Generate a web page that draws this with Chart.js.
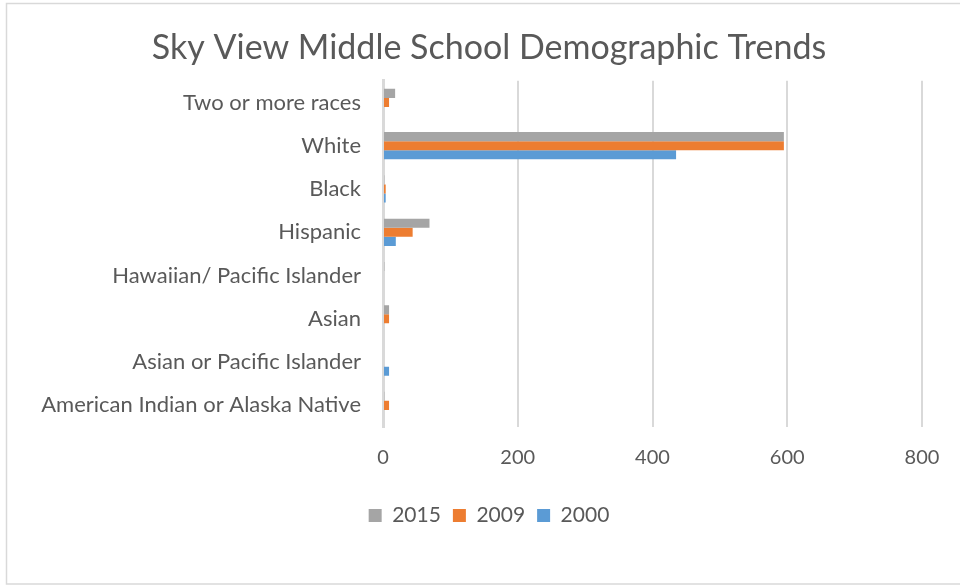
<!DOCTYPE html>
<html>
<head>
<meta charset="utf-8">
<script src="https://cdn.jsdelivr.net/npm/chart.js@4"></script>
<style>
  html, body { margin: 0; padding: 0; background: #fff; }
  #wrap { width: 960px; height: 585px; }
</style>
</head>
<body>
<div id="wrap"><canvas id="barChart" width="960" height="585"></canvas></div>
<script>
// Enrollment by group for each survey year
var groups = [
    'Two or more races',
    'White',
    'Black',
    'Hispanic',
    'Hawaiian/ Pacific Islander',
    'Asian',
    'Asian or Pacific Islander',
    'American Indian or Alaska Native'
];
var years = ['2015', '2009', '2000'];
var counts2015 = [18, 595, 2, 69, 2, 9, 0, 2];
var counts2009 = [9, 595, 4, 44, 0, 9, 0, 9];
var counts2000 = [0, 435, 4, 19, 0, 0, 9, 0];
var xTicks = [0, 200, 400, 600, 800];

var colors = ['#a5a5a5', '#ed7d31', '#5b9bd5'];
var textColor = '#595959';
var fontFamily = 'Lato, "Open Sans", sans-serif';

// white background plus thin frame around the chart;
// the category axis is stretched to the left edge so long labels aren't clipped
var framePlugin = {
    id: 'frame',
    afterLayout: function (chart) {
        chart.scales.y.left = 0;
    },
    beforeDraw: function (chart) {
        var ctx = chart.ctx;
        ctx.save();
        ctx.fillStyle = '#ffffff';
        ctx.fillRect(0, 0, chart.width, chart.height);
        ctx.strokeStyle = '#d9d9d9';
        ctx.lineWidth = 1.5;
        ctx.strokeRect(6.5, 3.5, chart.width, chart.height - 4.5);
        ctx.restore();
    }
};

var canvas = document.getElementById('barChart');
new Chart(canvas, {
    type: 'bar',
    data: {
        labels: groups,
        datasets: [
            { label: years[0], data: counts2015, backgroundColor: colors[0] },
            { label: years[1], data: counts2009, backgroundColor: colors[1] },
            { label: years[2], data: counts2000, backgroundColor: colors[2] }
        ]
    },
    options: {
        indexAxis: 'y',
        responsive: false,
        animation: false,
        categoryPercentage: 0.63,
        barPercentage: 1.0,
        layout: { padding: { left: 56, right: 38, top: 0, bottom: 49 } },
        plugins: {
            title: {
                display: true,
                text: 'Sky View Middle School Demographic Trends',
                color: textColor,
                font: { family: fontFamily, size: 34, weight: 'normal' },
                padding: { top: 28, bottom: 12 }
            },
            legend: {
                position: 'bottom',
                labels: {
                    color: textColor,
                    font: { family: fontFamily, size: 21 },
                    boxWidth: 13,
                    boxHeight: 13,
                    padding: 12
                }
            },
            tooltip: { enabled: false }
        },
        scales: {
            x: {
                min: 0,
                max: 800,
                afterBuildTicks: function (scale) {
                    scale.ticks = xTicks.map(function (v) { return { value: v }; });
                },
                grid: { color: '#d9d9d9', lineWidth: 2, drawTicks: false },
                border: { display: false },
                ticks: {
                    color: textColor,
                    font: { family: fontFamily, size: 20 },
                    padding: 19
                },
                afterFit: function (scale) { scale.height = 66; }
            },
            y: {
                grid: { display: false, drawTicks: false },
                border: { display: true, color: '#d9d9d9', width: 3 },
                ticks: {
                    color: textColor,
                    font: { family: fontFamily, size: 22 },
                    padding: 22
                },
                afterFit: function (scale) { scale.width = 327; }
            }
        }
    },
    plugins: [framePlugin]
});
</script>
</body>
</html>
